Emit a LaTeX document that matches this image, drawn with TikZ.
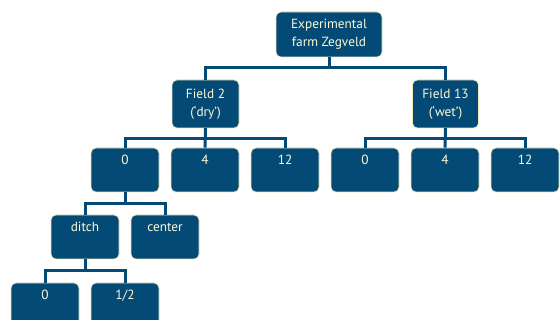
\documentclass[tikz,border=0pt]{standalone}
\usepackage{fontspec}
\setmainfont{PT Sans}
\definecolor{boxblue}{RGB}{3,74,118}
\definecolor{boxrim}{RGB}{236,232,190}
\definecolor{boxtext}{RGB}{255,250,215}
\tikzset{
  plotbox/.style={rectangle, rounded corners=5pt, fill=boxblue, draw=boxrim,
    line width=0.6pt, text=boxtext, inner sep=2pt, align=center,
    font=\fontsize{13.3}{18}\selectfont},
  levelbox/.style={plotbox, minimum width=68pt, text height=15pt, text depth=25pt},
  link/.style={draw=boxblue, line width=3pt}
}
\begin{document}
\begin{tikzpicture}[x=1pt, y=-1pt]
  \useasboundingbox[fill=white] (0,0) rectangle (560,320);
  % treatments
  \node[plotbox, minimum width=106pt, minimum height=45pt] (farm) at (329,34.5) {Experimental\\farm Zegveld};
  \node[plotbox, minimum width=67pt, minimum height=48pt] (fdry) at (205.5,104) {Field 2\\(‘dry’)};
  \node[plotbox, minimum width=66pt, minimum height=48pt] (fwet) at (445.5,104) {Field 13\\(‘wet’)};
  \node[levelbox] (dry0) at (125,170) {0};
  \node[levelbox] (dry4) at (205,170) {4};
  \node[levelbox] (dry12) at (285,170) {12};
  \node[levelbox] (wet0) at (365,170) {0};
  \node[levelbox] (wet4) at (445,170) {4};
  \node[levelbox] (wet12) at (525,170) {12};
  \node[levelbox] (ditch) at (85,237) {ditch};
  \node[levelbox] (center) at (165,237) {center};
  \node[levelbox] (depth0) at (45,305) {0};
  \node[levelbox] (depthhalf) at (125,305) {1/2};
  % connectors
  \draw[link] (farm.south) -- ++(0,10) -| (fdry.north);
  \draw[link] (farm.south) -- ++(0,10) -| (fwet.north);
  \draw[link] (fdry.south) -- ++(0,10) -| (dry0.north);
  \draw[link] (fdry.south) -- (dry4.north);
  \draw[link] (fdry.south) -- ++(0,10) -| (dry12.north);
  \draw[link] (fwet.south) -- ++(0,10) -| (wet0.north);
  \draw[link] (fwet.south) -- (wet4.north);
  \draw[link] (fwet.south) -- ++(0,10) -| (wet12.north);
  \draw[link] (dry0.south) -- ++(0,11) -| (ditch.north);
  \draw[link] (dry0.south) -- ++(0,11) -| (center.north);
  \draw[link] (ditch.south) -- ++(0,11) -| (depth0.north);
  \draw[link] (ditch.south) -- ++(0,11) -| (depthhalf.north);
\end{tikzpicture}
\end{document}
